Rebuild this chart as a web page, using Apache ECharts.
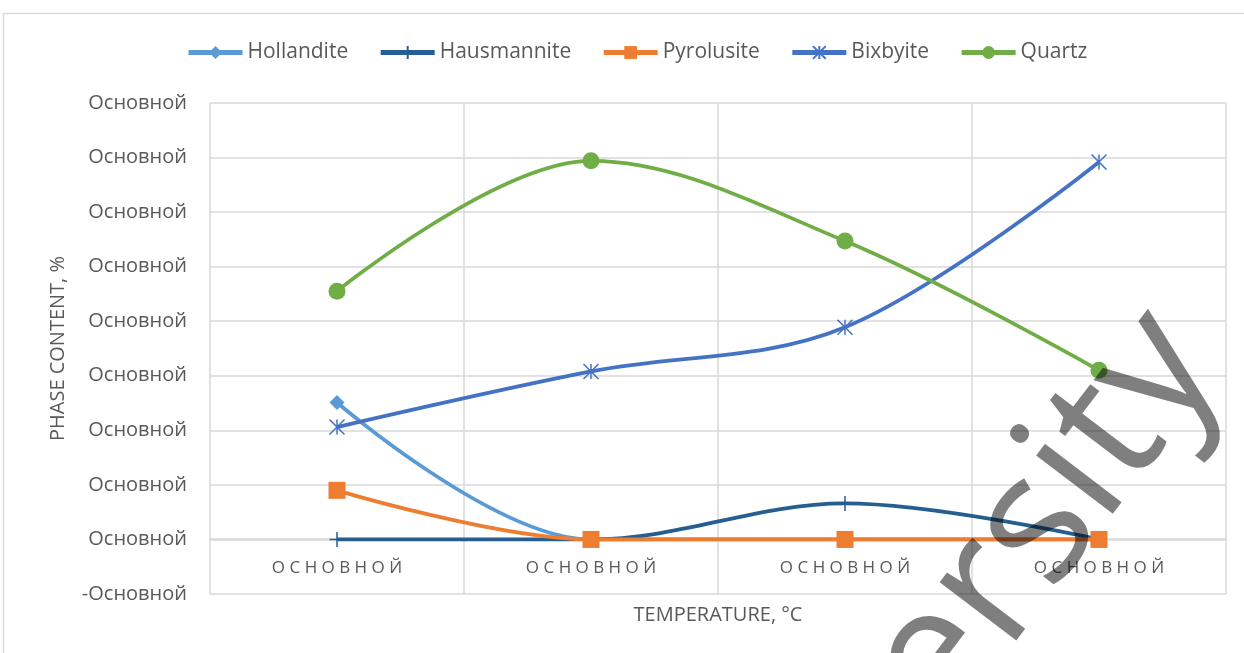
<!DOCTYPE html>
<html>
<head>
<meta charset="utf-8">
<script src="https://cdn.jsdelivr.net/npm/echarts@6/dist/echarts.min.js"></script>
<style>
  html, body { margin: 0; padding: 0; background: #fff; }
  #chart { width: 1244px; height: 653px; }
</style>
</head>
<body>
<div id="chart"></div>
<script>
// categories (Excel shows the number format text instead of the values)
const categories = ['ОСНОВНОЙ', 'ОСНОВНОЙ', 'ОСНОВНОЙ', 'ОСНОВНОЙ'];

// phase content
const hollandite = [25.1, 0, 0, 0];
const hausmannite = [0, 0, 6.6, 0];
const pyrolusite = [9.0, 0, 0, 0];
const bixbyite = [20.6, 30.8, 38.9, 69.2];
const quartz = [45.5, 69.4, 54.7, 31.0];

const yLabel = 'Основной';
const xName = 'TEMPERATURE, °C';
const yName = 'PHASE CONTENT, %';
const watermark = 'ersity';

const font = '"Open Sans", "Noto Sans", sans-serif';
const textColor = '#595959';
const gridColor = '#d9d9d9';

const plusPath = 'path://M5 0 L5 10 M0 5 L10 5';
const starPath = 'path://M0 0 L10 10 M10 0 L0 10 M5 0 L5 10';

function makeSeries(name, data, color, symbol, size, stroke) {
  return {
    name: name,
    type: 'line',
    data: data,
    smooth: 0.35,
    symbol: symbol,
    symbolSize: size,
    showAllSymbol: true,
    lineStyle: { color: color, width: 3.75 },
    itemStyle: stroke
      ? { color: color, borderColor: color, borderWidth: 1.5 }
      : { color: color, borderWidth: 0 },
    emphasis: { disabled: true },
  };
}

const chart = echarts.init(document.getElementById('chart'));

chart.setOption({
  animation: false,
  textStyle: { fontFamily: font },
  legend: {
    top: 37,
    left: 181,
    itemWidth: 54,
    itemHeight: 16,
    itemGap: 30,
    lineStyle: { width: 5 },
    textStyle: { color: textColor, fontSize: 21, fontFamily: font },
  },
  grid: { left: 210, right: 18, top: 103, bottom: 59, outerBoundsMode: 'none' },
  xAxis: {
    type: 'category',
    data: categories,
    boundaryGap: true,
    // the axis crosses the value axis at zero, one band above the bottom
    offset: -55,
    name: xName,
    nameLocation: 'middle',
    nameGap: 66,
    nameTextStyle: { color: textColor, fontSize: 20, fontFamily: font },
    axisLine: { onZero: false, lineStyle: { color: gridColor, width: 1.5 } },
    axisTick: { show: false },
    axisLabel: {
      color: textColor,
      fontSize: 17,
      margin: 21,
      fontFamily: font,
      formatter: (v) => v.split('').join(' '),
    },
    splitLine: { show: true, lineStyle: { color: gridColor, width: 1.5 } },
  },
  yAxis: {
    type: 'value',
    min: -10,
    max: 80,
    interval: 10,
    name: yName,
    nameLocation: 'middle',
    nameGap: 142,
    nameTextStyle: { color: textColor, fontSize: 20, fontFamily: font },
    axisLine: { show: false },
    axisTick: { show: false },
    axisLabel: {
      color: textColor,
      fontSize: 20,
      margin: 23,
      fontFamily: font,
      formatter: (v) => (v < 0 ? '-' + yLabel : yLabel),
    },
    splitLine: { lineStyle: { color: gridColor, width: 1.5 } },
  },
  series: [
    makeSeries('Hollandite', hollandite, '#5B9BD5', 'diamond', 15, false),
    makeSeries('Hausmannite', hausmannite, '#255E91', plusPath, 15, true),
    makeSeries('Pyrolusite', pyrolusite, '#ED7D31', 'rect', 17, false),
    makeSeries('Bixbyite', bixbyite, '#4472C4', starPath, 15, true),
    makeSeries('Quartz', quartz, '#70AD47', 'circle', 17, false),
  ],
  graphic: [
    {
      type: 'rect',
      silent: true,
      shape: { x: 3.5, y: 13.5, width: 1400, height: 800 },
      style: { fill: 'none', stroke: gridColor, lineWidth: 1.5 },
      z: -10,
    },
    {
      type: 'text',
      silent: true,
      x: 905,
      y: 702,
      rotation: 0.92,
      z: 100,
      style: {
        text: watermark,
        x: 0,
        y: 0,
        fill: 'rgba(0,0,0,0.5)',
        font: '180px "Open Sans", sans-serif',
        align: 'left',
        verticalAlign: 'middle',
      },
    },
  ],
});
</script>
</body>
</html>
